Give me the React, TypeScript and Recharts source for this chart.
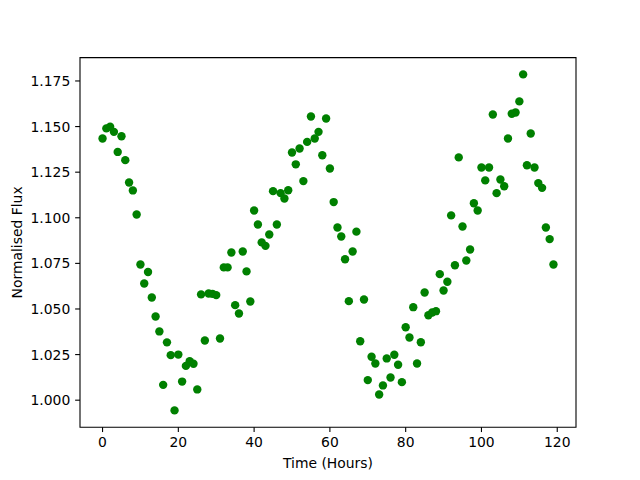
import React from 'react';
import { ScatterChart, Scatter, XAxis, YAxis, ReferenceArea, Label } from 'recharts';

const hours = [
  0, 1, 2, 3, 4, 5, 6, 7, 8, 9,
  10, 11, 12, 13, 14, 15, 16, 17, 18, 19,
  20, 21, 22, 23, 24, 25, 26, 27, 28, 29,
  30, 31, 32, 33, 34, 35, 36, 37, 38, 39,
  40, 41, 42, 43, 44, 45, 46, 47, 48, 49,
  50, 51, 52, 53, 54, 55, 56, 57, 58, 59,
  60, 61, 62, 63, 64, 65, 66, 67, 68, 69,
  70, 71, 72, 73, 74, 75, 76, 77, 78, 79,
  80, 81, 82, 83, 84, 85, 86, 87, 88, 89,
  90, 91, 92, 93, 94, 95, 96, 97, 98, 99,
  100, 101, 102, 103, 104, 105, 106, 107, 108, 109,
  110, 111, 112, 113, 114, 115, 116, 117, 118, 119,
];

const flux = [
  1.1435, 1.149, 1.1499, 1.1471, 1.1361, 1.1447, 1.1316, 1.1193, 1.115, 1.1018,
  1.0744, 1.064, 1.0703, 1.0563, 1.0459, 1.0377, 1.0084, 1.0317, 1.0247, 0.9944,
  1.025, 1.0102, 1.0188, 1.0214, 1.02, 1.0059, 1.058, 1.0327, 1.0585, 1.0583,
  1.0576, 1.0338, 1.0728, 1.0728, 1.081, 1.0521, 1.0475, 1.0815, 1.0706, 1.0541,
  1.104, 1.0963, 1.0865, 1.0846, 1.0908, 1.1146, 1.0963, 1.1135, 1.1106, 1.1151,
  1.1358, 1.1293, 1.138, 1.1201, 1.1416, 1.1555, 1.1435, 1.1471, 1.1343, 1.1544,
  1.127, 1.1086, 1.0947, 1.0897, 1.0773, 1.0543, 1.0815, 1.0924, 1.0323, 1.0552,
  1.011, 1.0238, 1.0201, 1.0031, 1.0081, 1.0229, 1.0124, 1.0249, 1.0194, 1.0099,
  1.04, 1.0344, 1.051, 1.0201, 1.0318, 1.059, 1.0466, 1.0481, 1.0488, 1.0691,
  1.0601, 1.0649, 1.1013, 1.074, 1.1331, 1.0952, 1.0766, 1.0826, 1.108, 1.104,
  1.1276, 1.1205, 1.1276, 1.1566, 1.1135, 1.121, 1.1173, 1.1435, 1.157, 1.1577,
  1.1638, 1.1786, 1.1288, 1.1462, 1.1276, 1.119, 1.1164, 1.0947, 1.0883, 1.0744,
];

const xTicks = [0, 20, 40, 60, 80, 100, 120];
const yTicks = [1.0, 1.025, 1.05, 1.075, 1.1, 1.125, 1.15, 1.175];

const X_DOMAIN: [number, number] = [-5.95, 124.95];
const Y_DOMAIN: [number, number] = [0.98519, 1.18781];

const data = hours.map((t, i) => ({ t, f: flux[i] }));

const FONT = 'DejaVu Sans, sans-serif';
const tickStyle = { fill: '#000', fontSize: 13.9, fontFamily: FONT };

const Dot = (props: any) => (
  <circle cx={props.cx} cy={props.cy} r={4.2} fill="#008000" />
);

export default function App() {
  return (
    <div style={{ position: 'absolute', left: 0, top: 0, width: 640, height: 480, background: '#fff' }}>
      <ScatterChart
        width={640}
        height={480}
        margin={{ top: 57.6, right: 64, bottom: 0, left: 0 }}
      >
        <XAxis
          type="number"
          dataKey="t"
          domain={X_DOMAIN}
          ticks={xTicks}
          allowDataOverflow
          height={52.8}
          axisLine={false}
          tickLine={{ stroke: '#000', strokeWidth: 1.1 }}
          tickSize={4.86}
          tickMargin={4.86}
          tick={tickStyle}
          interval={0}
        >
          <Label
            content={(p: any) => {
              const vb = p.viewBox;
              const cx = vb.x + vb.width / 2;
              const cy = vb.y + 36;
              return (
                <text x={cx} y={cy} textAnchor="middle" dominantBaseline="central" fontSize={13.9} fontFamily={FONT} fill="#000">
                  Time (Hours)
                </text>
              );
            }}
          />
        </XAxis>
        <YAxis
          type="number"
          dataKey="f"
          domain={Y_DOMAIN}
          ticks={yTicks}
          allowDataOverflow
          width={80}
          axisLine={false}
          tickLine={{ stroke: '#000', strokeWidth: 1.1 }}
          tickSize={4.86}
          tickMargin={4.86}
          tick={tickStyle}
          tickFormatter={(v: number) => v.toFixed(3)}
          interval={0}
        >
          <Label
            content={(p: any) => {
              const vb = p.viewBox;
              const cx = vb.x + 17;
              const cy = vb.y + vb.height / 2;
              return (
                <text x={cx} y={cy} transform={`rotate(-90 ${cx} ${cy})`} textAnchor="middle" dominantBaseline="central" fontSize={13.9} fontFamily={FONT} fill="#000">
                  Normalised Flux
                </text>
              );
            }}
          />
        </YAxis>
        <Scatter data={data} shape={Dot} isAnimationActive={false} />
        <ReferenceArea
          x1={X_DOMAIN[0]}
          x2={X_DOMAIN[1]}
          y1={Y_DOMAIN[0]}
          y2={Y_DOMAIN[1]}
          fill="none"
          fillOpacity={0}
          stroke="#000"
          strokeWidth={1.1}
          ifOverflow="visible"
        />
      </ScatterChart>
    </div>
  );
}
